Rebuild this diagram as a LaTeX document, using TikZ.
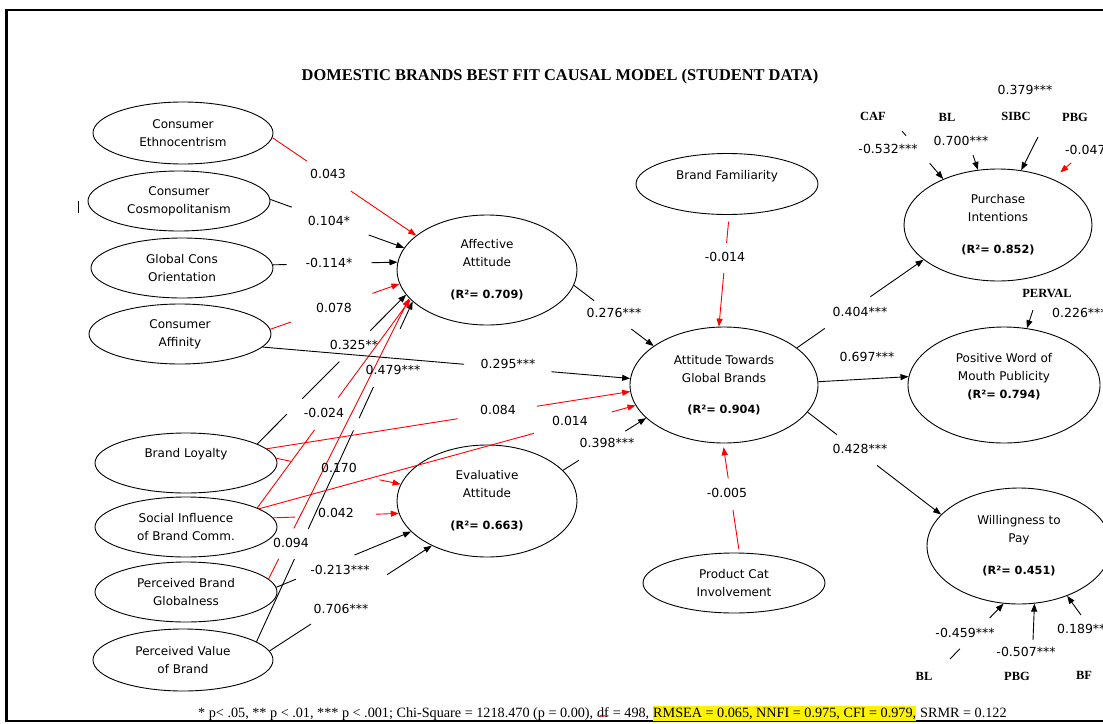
\documentclass[tikz,border=0pt]{standalone}
\usepackage{fontspec}
\setmainfont{Liberation Serif}
\newfontfamily\vfont{DejaVu Sans}
\usetikzlibrary{shapes.geometric,arrows.meta,calc,decorations.pathmorphing}
\newcommand\gapline[5]{\draw[#1] (#2) -- ($(#2)!#4!(#3)$); \draw[#1,->] ($(#2)!#5!(#3)$) -- (#3);}
\newcommand\rsqtxt[1]{{\vfont\bfseries\fontsize{11.3}{14}\selectfont #1}}
\begin{document}
\begin{tikzpicture}[x=1pt,y=-1pt,
  ell/.style={draw, ellipse, line width=0.9pt, inner sep=0pt, align=center, font=\vfont\fontsize{12}{18}\selectfont},
  val/.style={inner sep=0pt, font=\vfont\fontsize{12.5}{15}\selectfont},
  tag/.style={inner sep=0pt, font=\bfseries\fontsize{12.5}{15}\selectfont},
  foot/.style={inner sep=0pt, font=\fontsize{14.2}{17}\selectfont},
  blk/.style={line width=0.9pt, black},
  rd/.style={line width=0.9pt, red},
  >={Triangle[length=8pt,width=6pt]},
]
\useasboundingbox (0,0) rectangle (1103,723);
% frame
\draw[line width=2.5pt] (6.5,10) rectangle (1130,721);
\draw[line width=1pt] (78,201) -- (78,213);
% title
\node[font=\bfseries\fontsize{16.4}{20}\selectfont] (title) at (560,77) {DOMESTIC BRANDS BEST FIT CAUSAL MODEL (STUDENT DATA)};
% ellipses
\node[ell, minimum width=180pt, minimum height=62pt] (ce) at (183,133) {Consumer\\Ethnocentrism};
\node[ell, minimum width=182pt, minimum height=60pt] (cc) at (179,201) {Consumer\\Cosmopolitanism};
\node[ell, minimum width=182pt, minimum height=60pt] (gco) at (182,268) {Global Cons\\Orientation};
\node[ell, minimum width=182pt, minimum height=60pt] (ca) at (180,334) {Consumer\\Affinity};
\node[ell, minimum width=182pt, minimum height=60pt] (bl) at (186,463) {\raisebox{8pt}[8pt][3pt]{Brand Loyalty}};
\node[ell, minimum width=182pt, minimum height=60pt] (sibc) at (186,527) {Social Influence\\of Brand Comm.};
\node[ell, minimum width=182pt, minimum height=60pt] (pbg) at (186,592) {Perceived Brand\\Globalness};
\node[ell, minimum width=180pt, minimum height=62pt] (pvb) at (183,660) {Perceived Value\\of Brand};
\node[ell, minimum width=180pt, minimum height=110pt] (aa) at (487,270) {Affective\\Attitude\\[14pt]\rsqtxt{(R²= 0.709)}};
\node[ell, minimum width=180pt, minimum height=112pt] (ea) at (487,501) {Evaluative\\Attitude\\[14pt]\rsqtxt{(R²= 0.663)}};
\node[ell, minimum width=182pt, minimum height=61pt] (bf) at (727,184) {\raisebox{7pt}[8pt][3pt]{Brand Familiarity}};
\node[ell, minimum width=188pt, minimum height=116pt] (atgb) at (724,385) {Attitude Towards\\Global Brands\\[13pt]\rsqtxt{(R²= 0.904)}};
\node[ell, minimum width=182pt, minimum height=60pt] (pci) at (734,583) {Product Cat\\Involvement};
\node[ell, minimum width=188pt, minimum height=112pt] (pi) at (998,225) {Purchase\\Intentions\\[14pt]\rsqtxt{(R²= 0.852)}};
\node[ell, minimum width=192pt, minimum height=116pt] (pwom) at (1004,385) {Positive Word of\\Mouth Publicity\\\rsqtxt{(R²= 0.794)}\\[-6pt]\strut};
\node[ell, minimum width=184pt, minimum height=116pt] (wtp) at (1019,546) {Willingness to\\Pay\\[14pt]\rsqtxt{(R²= 0.451)}};
% connectors into Affective Attitude
\gapline{rd}{ce.-3}{aa.154}{0.24}{0.545}
\gapline{blk}{cc.1}{aa.165}{0.16}{0.735}
\gapline{blk}{gco.2}{aa.175}{0.11}{0.79}
\gapline{rd}{ca.3}{aa.189}{0.16}{0.79}
\draw[blk] (bl.15) -- ($(bl.15)!0.2!(aa.197)$);
\draw[blk] ($(bl.15)!0.303!(aa.197)$) -- ($(bl.15)!0.552!(aa.197)$);
\draw[blk,->] ($(bl.15)!0.759!(aa.197)$) -- (aa.197);
\draw[blk] (pvb.14) -- ($(pvb.14)!0.243!(aa.203)$);
\draw[blk] ($(pvb.14)!0.331!(aa.203)$) -- ($(pvb.14)!0.621!(aa.203)$);
\draw[blk] ($(pvb.14)!0.657!(aa.203)$) -- ($(pvb.14)!0.749!(aa.203)$);
\draw[blk,->] ($(pvb.14)!0.92!(aa.203)$) -- (aa.203);
\gapline{rd}{sibc.15}{aa.201}{0.374}{0.529}
\gapline{rd}{pbg.9}{aa.200}{0.072}{0.18}
% into Evaluative Attitude
\gapline{rd}{bl.3}{ea.169}{0.12}{0.83}
\gapline{rd}{sibc.6}{ea.188}{0.175}{0.817}
\gapline{blk}{pbg.3}{ea.202}{0.145}{0.58}
\gapline{blk}{pvb.6}{ea.219}{0.255}{0.725}
% into Attitude Towards Global Brands
\gapline{blk}{ca.-9}{atgb.176}{0.548}{0.786}
\gapline{rd}{bl.10}{atgb.184}{0.525}{0.743}
\gapline{rd}{sibc.14}{atgb.193}{0.73}{0.937}
\gapline{blk}{aa.-10}{atgb.151}{0.253}{0.72}
\gapline{blk}{ea.22}{atgb.203}{0.19}{0.75}
\draw[rd] ($(bf.-86)!0.06!(atgb.95)$) -- ($(bf.-86)!0.25!(atgb.95)$);
\draw[rd,->] ($(bf.-86)!0.518!(atgb.95)$) -- (atgb.95);
\draw[rd] ($(pci.80)!0.03!(atgb.269)$) -- ($(pci.80)!0.39!(atgb.269)$);
\draw[rd,->] ($(pci.80)!0.68!(atgb.269)$) -- ($(pci.80)!0.965!(atgb.269)$);
% outcomes
\gapline{blk}{atgb.27}{pi.205}{0.22}{0.58}
\draw[blk,->] (atgb.2) -- (pwom.175);
\gapline{blk}{atgb.-18}{wtp.158}{0.22}{0.52}
% small covariates
\coordinate (cafE) at (902,131);
\gapline{blk}{cafE}{pi.140}{0.1}{0.67}
\coordinate (blE) at (973,155);
\draw[blk,->] (blE) -- (pi.110);
\coordinate (sibcE) at (1038,137);
\draw[blk,->] (sibcE) -- (pi.67);
\coordinate (pbgE) at (1071,163);
\draw[rd,->,shorten >=10pt] (pbgE) -- (pi.40);
\coordinate (pervalE) at (1033,310);
\draw[blk,->] (pervalE) -- (pwom.68);
\coordinate (blE2) at (950,659);
\gapline{blk}{blE2}{wtp.255}{0.185}{0.74}
\coordinate (pbgE2) at (1033,640);
\draw[blk,->] (pbgE2) -- (wtp.285);
\coordinate (bfE) at (1081,615);
\draw[blk,->] (bfE) -- (wtp.-46);
% path values
\node[val] (v1) at (328,174) {0.043};
\node[val] (v2) at (329,221) {0.104*};
\node[val] (v3) at (329,263) {-0.114*};
\node[val] (v4) at (334,308) {0.078};
\node[val] (v5) at (354,345) {0.325**};
\node[val] (v6) at (393,370) {0.479***};
\node[val] (v7) at (508,364) {0.295***};
\node[val] (v8) at (324,413) {-0.024};
\node[val] (v9) at (498,410) {0.084};
\node[val] (v10) at (570,421) {0.014};
\node[val] (v11) at (607,443) {0.398***};
\node[val] (v12) at (339,468) {0.170};
\node[val] (v13) at (336,513) {0.042};
\node[val] (v14) at (291,543) {0.094};
\node[val] (v15) at (340,570) {-0.213***};
\node[val] (v16) at (341,609) {0.706***};
\node[val] (v17) at (614,313) {0.276***};
\node[val] (v18) at (725,257) {-0.014};
\node[val] (v19) at (727,493) {-0.005};
\node[val] (v20) at (860,312) {0.404***};
\node[val] (v21) at (867,357) {0.697***};
\node[val] (v22) at (860,449) {0.428***};
\node[val] (v23) at (1025,90) {0.379***};
\node[val] (v24) at (888,149) {-0.532***};
\node[val] (v25) at (961,141) {0.700***};
\node[val, anchor=west] (v26) at (1065,150) {-0.047};
\node[val, anchor=west] (v27) at (1052,313) {0.226***};
\node[val] (v28) at (965,633) {-0.459***};
\node[val] (v29) at (1026,652) {-0.507***};
\node[val, anchor=west] (v30) at (1057,629) {0.189***};
% covariate tags
\node[tag] (caf) at (873,116) {CAF};
\node[tag] (blt) at (947,117) {BL};
\node[tag] (sibct) at (1016,116) {SIBC};
\node[tag] (pbgt) at (1075,117) {PBG};
\node[tag] (perval) at (1047,293) {PERVAL};
\node[tag] (blb) at (924,676) {BL};
\node[tag] (pbgb) at (1017,676) {PBG};
\node[tag] (bfb) at (1084,675) {BF};
% footer
\node[foot, anchor=base west] (f1) at (198,717) {* p< .05, ** p < .01, *** p < .001; Chi-Square = 1218.470 (p = 0.00),};
\node[foot, anchor=base west] (f2) at ([xshift=3.5pt]f1.base east) {df};
\node[foot, anchor=base west] (f3) at ([xshift=3.5pt]f2.base east) {= 498,};
\node[foot, anchor=base west, fill=yellow, inner ysep=2pt] (f4) at ([xshift=3.5pt]f3.base east) {RMSEA = 0.065, NNFI = 0.975, CFI = 0.979,};
\node[foot, anchor=base west] (f5) at ([xshift=3.5pt]f4.base east) {SRMR = 0.122};
\draw[red, line width=0.5pt, decorate, decoration={snake, amplitude=0.8pt, segment length=3pt}] ([yshift=1.5pt]f2.south west) -- ([yshift=1.5pt]f2.south east);
\end{tikzpicture}
\end{document}
